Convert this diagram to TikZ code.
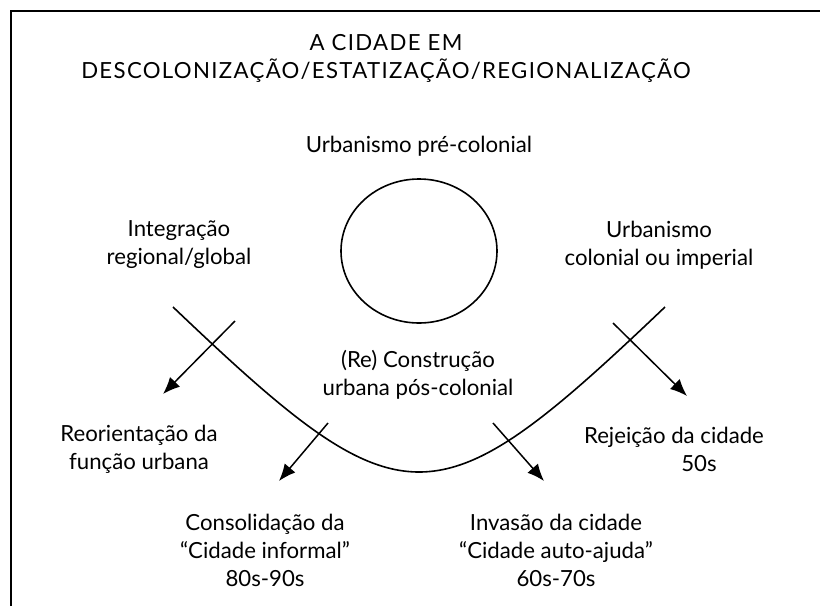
\documentclass[tikz,border=0pt]{standalone}
\usepackage{fontspec}
\setmainfont{Lato}
\usepackage{tikz}
\usetikzlibrary{arrows.meta,shapes.geometric}

\begin{document}
\begin{tikzpicture}[
	x=0.5pt, y=-0.5pt,
	textnode/.style={align=center, inner sep=0pt, font=\fontsize{11.1}{14}\selectfont},
	flowarrow/.style={-{Latex[length=8.5pt,width=7pt]}, line width=0.75pt},
	]
	\useasboundingbox (0,0) rectangle (820,606);
	%Frame
	\draw[line width=1pt] (11,606) -- (11,11) -- (820,11);
	
	%Nodes
	\node[textnode, font=\fontsize{11.1}{14}\selectfont\addfontfeature{LetterSpace=6}] (title) at (386,58)
		{A CIDADE EM\\DESCOLONIZAÇÃO/ESTATIZAÇÃO/REGIONALIZAÇÃO};
	\node[textnode] (pre)     at (419,146) {Urbanismo pré-colonial};
	\node[textnode] (integ)   at (179,245) {Integração\\regional/global};
	\node[textnode] (colon)   at (659,245) {Urbanismo\\colonial ou imperial};
	\node[textnode] (recons)  at (418,375) {(Re) Construção\\urbana pós-colonial};
	\node[textnode] (reor)    at (139,449) {Reorientação da\\função urbana};
	\node[textnode] (rejei)   at (674,449) {Rejeição da cidade\\\hspace*{25pt}50s};
	\node[textnode] (consol)  at (265,550) {Consolidação da\\“Cidade informal”\\80s-90s};
	\node[textnode] (invas)   at (556,550) {Invasão da cidade\\“Cidade auto-ajuda”\\60s-70s};
	\node[draw, ellipse, line width=0.8pt, minimum width=78pt, minimum height=72pt, inner sep=0pt] (cycle) at (419,251) {};
	
	%Coordinates
	\coordinate (cstart) at (173,307);
	\coordinate (cend)   at (665,307);
	\coordinate (t1) at (235,321);
	\coordinate (h1) at (163,394);
	\coordinate (t2) at (328,423);
	\coordinate (h2) at (279,481);
	\coordinate (t3) at (613,323);
	\coordinate (h3) at (687,396);
	\coordinate (t4) at (493,423);
	\coordinate (h4) at (544,481);
	
	%Lines
	\draw[line width=0.8pt] (cstart) .. controls (404,527) and (434,527) .. (cend);
	\draw[flowarrow] (t1) -- (h1);
	\draw[flowarrow] (t2) -- (h2);
	\draw[flowarrow] (t3) -- (h3);
	\draw[flowarrow] (t4) -- (h4);
\end{tikzpicture}
\end{document}
